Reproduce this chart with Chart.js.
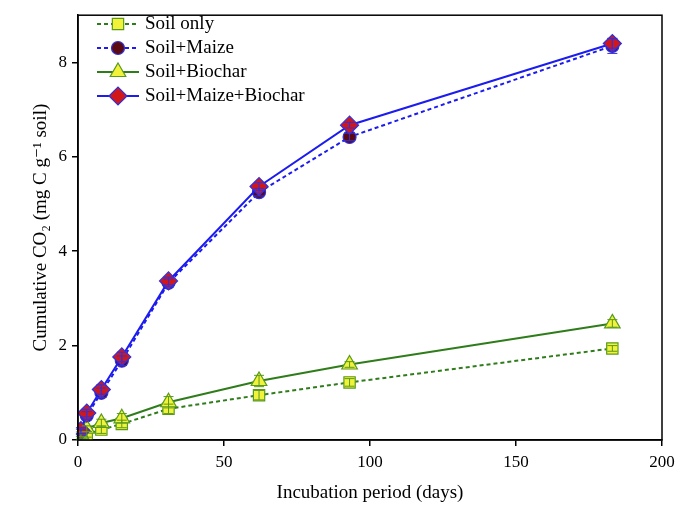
<!DOCTYPE html>
<html><head><meta charset="utf-8">
<script src="https://cdn.jsdelivr.net/npm/chart.js@4.4.1/dist/chart.umd.min.js"></script>
<style>html,body{margin:0;padding:0;background:#fff}#wrap{width:688px;height:507px}</style>
</head><body><div id="wrap"><canvas id="c" width="688" height="507"></canvas></div>
<script>
const days = [1, 3, 8, 15, 31, 62, 93, 183];
const soilOnly = [0.07, 0.12, 0.22, 0.34, 0.66, 0.95, 1.22, 1.94];
const soilMaize = [0.17, 0.52, 1.00, 1.68, 3.33, 5.25, 6.42, 8.35];
const soilBiochar = [0.12, 0.24, 0.36, 0.46, 0.80, 1.25, 1.60, 2.47];
const soilMaizeBiochar = [0.20, 0.57, 1.07, 1.76, 3.37, 5.37, 6.67, 8.40];
const errSoilOnly = [0.05, 0.06, 0.08, 0.08, 0.10, 0.10, 0.08, 0.06];
const errSoilMaize = [0.06, 0.08, 0.10, 0.10, 0.08, 0.08, 0.08, 0.16];
const errSoilBiochar = [0.05, 0.06, 0.08, 0.10, 0.12, 0.12, 0.06, 0.08];
const errSoilMaizeBiochar = [0.06, 0.08, 0.10, 0.10, 0.08, 0.08, 0.06, 0.10];
const labels = ['Soil only', 'Soil+Maize', 'Soil+Biochar', 'Soil+Maize+Biochar'];
const xTicks = [0, 50, 100, 150, 200];
const yTicks = [0, 2, 4, 6, 8];

const GREEN = '#2f7d1a', BLUE = '#1c1cf0';
const pts = (ys) => days.map((d, i) => ({x: d, y: ys[i]}));
const SERIF = '"Liberation Serif", "DejaVu Serif", serif';

const datasets = [
  {label: labels[0], data: pts(soilOnly), err: errSoilOnly, borderColor: GREEN, borderDash: [4, 3], borderWidth: 2,
   pointStyle: 'rect', pointRadius: 8, pointBackgroundColor: '#f2f23a', pointBorderColor: '#5a9a1e', pointBorderWidth: 1.2, order: 3},
  {label: labels[1], data: pts(soilMaize), err: errSoilMaize, borderColor: BLUE, borderDash: [4, 3], borderWidth: 2,
   pointStyle: 'circle', pointRadius: 6.5, pointBackgroundColor: '#5b0a12', pointBorderColor: '#3030e0', pointBorderWidth: 1.2, order: 2},
  {label: labels[2], data: pts(soilBiochar), err: errSoilBiochar, borderColor: GREEN, borderWidth: 2,
   pointStyle: 'triangle', pointRadius: 9, pointBackgroundColor: '#f2f23a', pointBorderColor: '#5a9a1e', pointBorderWidth: 1.2, order: 1},
  {label: labels[3], data: pts(soilMaizeBiochar), err: errSoilMaizeBiochar, borderColor: BLUE, borderWidth: 2,
   pointStyle: 'rectRot', pointRadius: 9, pointBackgroundColor: '#d01818', pointBorderColor: '#3030e0', pointBorderWidth: 1.2, order: 0}
];
datasets.forEach(d => { d.fill = false; d.tension = 0; d.backgroundColor = d.pointBackgroundColor; });

const errorBars = {
  id: 'errorBars',
  afterDatasetsDraw(chart) {
    const ctx = chart.ctx, xs = chart.scales.x, ys = chart.scales.y;
    chart.data.datasets.forEach(ds => {
      ctx.save();
      ctx.strokeStyle = ds.pointBorderColor; ctx.lineWidth = 1;
      ds.data.forEach((p, i) => {
        const e = ds.err[i];
        const x = xs.getPixelForValue(p.x);
        const y1 = ys.getPixelForValue(p.y - e), y2 = ys.getPixelForValue(p.y + e);
        ctx.beginPath();
        ctx.moveTo(x, y1); ctx.lineTo(x, y2);
        ctx.moveTo(x - 5, y1); ctx.lineTo(x + 5, y1);
        ctx.moveTo(x - 5, y2); ctx.lineTo(x + 5, y2);
        ctx.stroke();
      });
      ctx.restore();
    });
  }
};

const frame = {
  id: 'frame',
  afterDraw(chart) {
    const {ctx, chartArea: a} = chart;
    ctx.save(); ctx.strokeStyle = '#000'; ctx.lineWidth = 1.5;
    ctx.strokeRect(a.left, a.top, a.right - a.left, a.bottom - a.top);
    ctx.restore();
  }
};

const legendPlugin = {
  id: 'customLegend',
  afterDraw(chart) {
    const ctx = chart.ctx;
    const rows = [24, 48, 72, 96];
    chart.data.datasets.forEach((ds, i) => {
      const y = rows[i];
      ctx.save();
      ctx.strokeStyle = ds.borderColor; ctx.lineWidth = 2;
      ctx.setLineDash(ds.borderDash || []);
      ctx.beginPath(); ctx.moveTo(97, y); ctx.lineTo(139, y); ctx.stroke();
      ctx.restore();
      ctx.save();
      ctx.fillStyle = ds.pointBackgroundColor; ctx.strokeStyle = ds.pointBorderColor; ctx.lineWidth = ds.pointBorderWidth;
      Chart.helpers.drawPoint(ctx, {pointStyle: ds.pointStyle, radius: ds.pointRadius, borderWidth: ds.pointBorderWidth, rotation: 0}, 118, y);
      ctx.restore();
      ctx.save();
      ctx.fillStyle = '#000'; ctx.font = '19px ' + SERIF; ctx.textBaseline = 'middle'; ctx.textAlign = 'left';
      ctx.fillText(ds.label, 145, y);
      ctx.restore();
    });
  }
};

new Chart(document.getElementById('c'), {
  type: 'line',
  data: {datasets},
  options: {
    responsive: false, animation: false, devicePixelRatio: 1,
    layout: {padding: {top: 12, right: 26, left: 0, bottom: 0}},
    plugins: {legend: {display: false}, tooltip: {enabled: false}},
    scales: {
      x: {
        type: 'linear', min: 0, max: 200,
        afterBuildTicks: (s) => { s.ticks = xTicks.map(v => ({value: v})); },
        afterFit: (s) => { s.height = 67; },
        grid: {drawOnChartArea: false, drawTicks: true, tickLength: 6, color: '#000', lineWidth: 1.5},
        border: {display: true, color: '#000', width: 1.5},
        ticks: {color: '#000', font: {family: SERIF, size: 17}, padding: 6, maxRotation: 0},
        title: {display: true, text: 'Incubation period (days)', color: '#000', font: {family: SERIF, size: 19}, padding: {top: 0, bottom: 3}}
      },
      y: {
        type: 'linear', min: 0, max: 9,
        afterBuildTicks: (s) => { s.ticks = yTicks.map(v => ({value: v})); },
        afterFit: (s) => { s.width = 78; },
        grid: {drawOnChartArea: false, drawTicks: true, tickLength: 6, color: '#000', lineWidth: 1.5},
        border: {display: true, color: '#000', width: 1.5},
        ticks: {color: '#000', font: {family: SERIF, size: 17}, padding: 5},
        title: {display: true, text: 'Cumulative CO\u2082 (mg C g\u207B\u00B9 soil)', color: '#000', font: {family: SERIF, size: 19}, padding: {top: 30, bottom: 0}}
      }
    }
  },
  plugins: [errorBars, frame, legendPlugin]
});
</script></body></html>
